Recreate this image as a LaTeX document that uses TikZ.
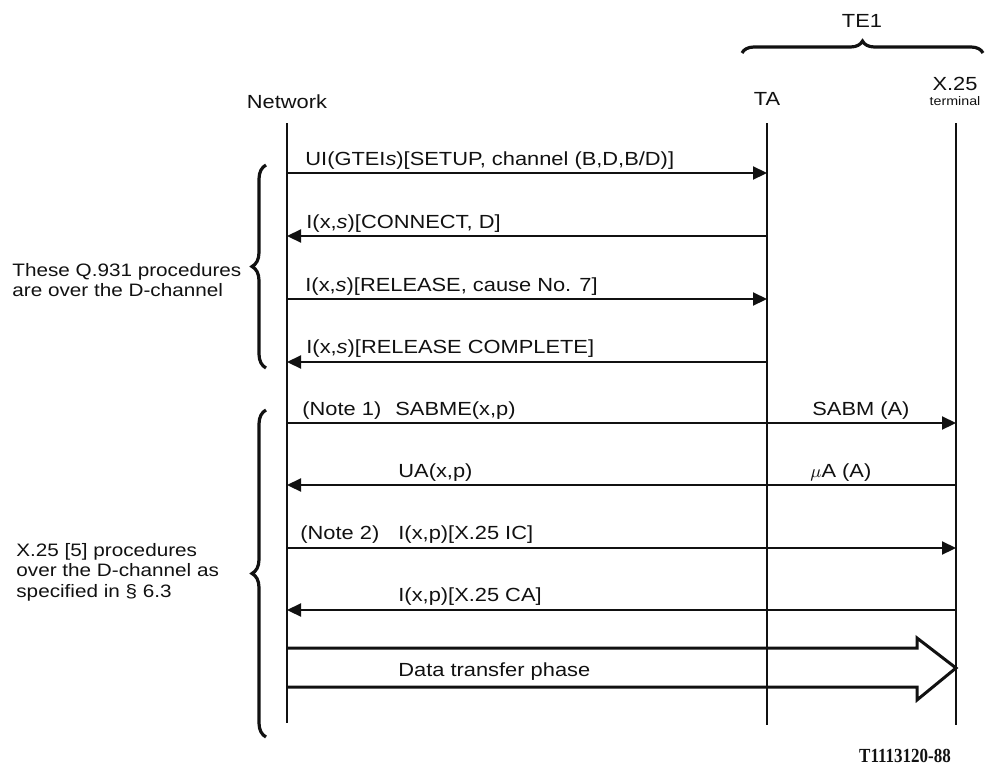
\documentclass[tikz,border=0pt]{standalone}
\usepackage{fontspec}
\setmainfont{Liberation Sans}[FakeStretch=1.15]
\newfontfamily\tagfont{Liberation Serif}[FakeStretch=0.85]
\usetikzlibrary{arrows.meta,decorations.pathreplacing}
\definecolor{ink}{HTML}{111111}
\tikzset{
  lifeline/.style={draw=ink,line width=1.3pt},
  msg/.style={-{Triangle[length=7pt,width=6.5pt]},line width=1.1pt,color=ink},
  msglbl/.style={anchor=base west,inner sep=0pt,
                 font=\fontsize{9.5}{11}\selectfont,text=ink},
  headlbl/.style={anchor=base,inner sep=0pt,
                  font=\fontsize{9.5}{11}\selectfont,text=ink},
  sidenote/.style={anchor=west,align=left,inner sep=0pt,
                   font=\fontsize{9}{10.2}\selectfont,text=ink},
  sidebrace/.style={decorate,decoration={brace,amplitude=7pt},
                    line width=1.6pt,color=ink},
  bigarrow/.style={line width=1.5pt,color=ink,line join=miter}
}

\begin{document}
\begin{tikzpicture}[x=0.5pt,y=-0.5pt]
  \useasboundingbox (0,0) rectangle (997,766);
  \node[headlbl] (te1) at (862,27) {TE1};
  \draw[sidebrace,decoration={amplitude=6pt}] (742,53) -- (983,53);
  \node[headlbl] (net) at (287,108) {Network};
  \node[headlbl] (ta) at (767,105) {TA};
  \node[headlbl] (x25) at (955,90) {X.25};
  \node[headlbl,font=\fontsize{6.2}{7}\selectfont] (term) at (955,105) {terminal};

  \coordinate (nettop) at (287,123);
  \coordinate (netbot) at (287,723);
  \coordinate (tatop) at (767,123);
  \coordinate (tabot) at (767,725);
  \coordinate (x25top) at (956,123);
  \coordinate (x25bot) at (956,725);
  \draw[lifeline] (nettop) -- (netbot);
  \draw[lifeline] (tatop) -- (tabot);
  \draw[lifeline] (x25top) -- (x25bot);

  \foreach \i/\yy in {1/173,2/236,3/299,4/362,5/423,6/485,7/548,8/610} {
    \coordinate (n\i) at (287,\yy);
    \coordinate (t\i) at (767,\yy);
    \coordinate (x\i) at (956,\yy);
  }

  \draw[msg] (n1) -- (t1);
  \draw[msg] (t2) -- (n2);
  \draw[msg] (n3) -- (t3);
  \draw[msg] (t4) -- (n4);
  \draw[msg] (n5) -- (x5);
  \draw[msg] (x6) -- (n6);
  \draw[msg] (n7) -- (x7);
  \draw[msg] (x8) -- (n8);

  \node[msglbl] (m1) at (305,165) {UI(GTEI\textit{s})[SETUP, channel (B,D,B/D)]};
  \node[msglbl] (m2) at (306,228) {I(x,\textit{s})[CONNECT, D]};
  \node[msglbl] (m3) at (305,291) {I(x,\textit{s})[RELEASE, cause No. 7]};
  \node[msglbl] (m4) at (306,353) {I(x,\textit{s})[RELEASE COMPLETE]};
  \node[msglbl] (note1) at (302,415) {(Note 1)};
  \node[msglbl] (m5) at (395,415) {SABME(x,p)};
  \node[msglbl] (m5b) at (812,415) {SABM (A)};
  \node[msglbl] (m6) at (398,477) {UA(x,p)};
  \node[msglbl] (m6b) at (810,477) {$\mu$A (A)};
  \node[msglbl] (note2) at (300,539) {(Note 2)};
  \node[msglbl] (m7) at (398,539) {I(x,p)[X.25 IC]};
  \node[msglbl] (m8) at (398,601) {I(x,p)[X.25 CA]};

  \coordinate (dtop) at (287,648);
  \coordinate (dbot) at (287,687);
  \coordinate (x9) at (956,668);
  \draw[bigarrow] (dtop) -- ++(630,0) -- ++(0,-10) -- (x9)
    -- ++(-39,32) -- ++(0,-13) -- (dbot);
  \node[msglbl] (m9) at (398,676) {Data transfer phase};

  \draw[sidebrace] (266,368) -- (266,165);
  \node[sidenote] (q931) at (12,280)
    {These Q.931 procedures\\are over the D-channel};
  \draw[sidebrace] (266,737) -- (266,410);
  \node[sidenote] (x25proc) at (16,572)
    {X.25 [5] procedures\\over the D-channel as\\specified in \S\ 6.3};

  \node[headlbl,font=\tagfont\bfseries\fontsize{10}{11}\selectfont] (tag) at (905,762) {T1113120-88};
\end{tikzpicture}
\end{document}
